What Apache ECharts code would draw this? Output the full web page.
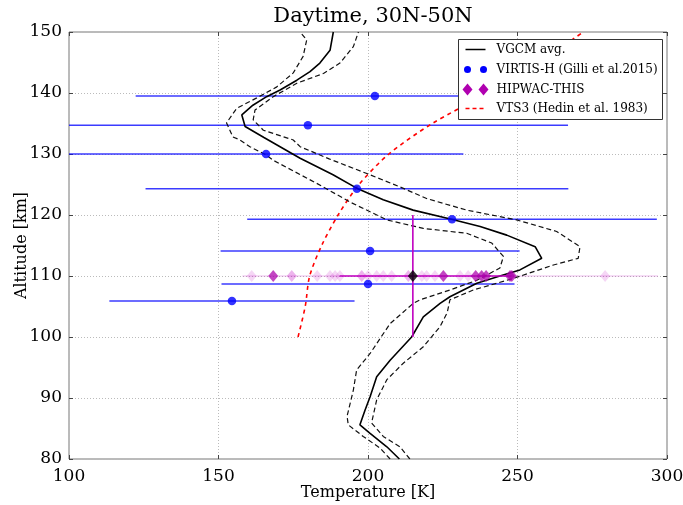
<!DOCTYPE html>
<html><head><meta charset="utf-8">
<script src="https://cdn.jsdelivr.net/npm/echarts@6/dist/echarts.min.js"></script>
<style>html,body{margin:0;padding:0;background:#fff}#c{width:683px;height:505px}</style>
</head><body><div id="c"></div>
<script>
// ---- data ----
const xTicks = [100, 150, 200, 250, 300];
const yTicks = [80, 90, 100, 110, 120, 130, 140, 150];

const vgcmAlt = [80, 82, 84.2, 85.6, 88, 90.2, 93.5, 96.2, 100, 103.3, 105.5, 106.6, 108.8, 110, 111, 112.9, 114.8, 116.7, 118.1, 119.3, 120.8, 122.5, 124.4, 126.6, 129.3, 132.7, 134.5, 136.4, 138, 139.4, 140.5, 142.1, 143.5, 144.9, 147, 150];
const vgcmT   = [210.5, 206.3, 200.7, 197.3, 199, 200.7, 202.9, 207.4, 214.6, 218.5, 224.1, 227.4, 236.4, 244.1, 250.8, 258.1, 255.9, 246.4, 237.5, 227.9, 215.1, 205.1, 196.2, 188.3, 177.3, 165.2, 158.9, 157.8, 161.5, 166.1, 170.6, 176.2, 180.6, 183.9, 187.3, 188.4];

const lowAlt = [80, 81.8, 83.7, 85.6, 87, 91.3, 94.6, 97.3, 102.2, 105.5, 106.1, 107.7, 109.3, 111.3, 113.2, 115.4, 117, 117.8, 119.2, 122, 125.2, 129, 129.8, 131.2, 132.3, 132.8, 135.1, 137.5, 139.2, 141, 143.3, 146, 148.7, 150];
const lowT   = [207.4, 204, 198.4, 193.4, 193, 195.1, 196.2, 200.7, 207.4, 215.1, 217.4, 227.4, 236.4, 244.1, 245.3, 241.4, 233, 218.5, 206.3, 194.5, 182.8, 168.2, 166.1, 160.5, 157.2, 154.8, 152.7, 156.1, 162.8, 169.5, 175, 178.3, 179.5, 177.3];

const upAlt = [80, 82, 83.7, 85.9, 89.7, 93, 95.7, 98.4, 101.7, 104, 106.1, 107.7, 109.6, 111.8, 112.9, 114.8, 117.3, 119.2, 120.8, 122.7, 124.6, 126.8, 129.2, 131.2, 132.3, 133.9, 135.6, 137.2, 139.4, 141.6, 143.2, 144.9, 147.6, 150];
const upT   = [214, 210.7, 205.1, 201.2, 202.9, 206.3, 211.8, 218.5, 224.1, 226.5, 227.4, 235.2, 248.6, 262, 270.3, 270.9, 263.1, 249.7, 233, 219.6, 210.7, 199.6, 187, 177.3, 175, 165, 161.6, 162.2, 168.3, 176.2, 185.1, 190.6, 195.1, 196.8];

const vtsAlt = [100, 105, 110, 115, 120, 125, 130, 135, 140, 145, 150];
const vtsT   = [176.6, 179, 180.5, 184.5, 190, 197, 207, 221.5, 240, 257, 272];

const virtisT   = [202.3, 179.9, 165.9, 196.3, 228.1, 200.7, 200, 154.5];
const virtisAlt = [139.5, 134.7, 130, 124.3, 119.3, 114.1, 108.7, 105.9];
const virtisErr = [80, 87, 66, 70.7, 68.5, 50, 49, 41];

const hipwacAlt = 110;
const hipwacLightT = [161.1, 174.5, 174.5, 183, 187.3, 189, 190.6, 197.9, 197.9, 200, 202.9, 205.1, 207.9, 213.5, 213.5, 218, 219.6, 222.4, 230.8, 233.5, 279.3];
const hipwacDarkT  = [168.3, 225.2, 236, 238, 239.5, 247.5, 248.1];
const hipwacMeanT = 215;
const hipwacTRange = [190.5, 248];
const hipwacAltRange = [100, 120];
const hipwacSpread = [158, 297];

const title = 'Daytime, 30N-50N';
const xName = 'Temperature [K]';
const yName = 'Altitude [km]';
const legendNames = ['VGCM avg.', 'VIRTIS-H (Gilli et al.2015)', 'HIPWAC-THIS', 'VTS3 (Hedin et al. 1983)'];

// ---- build ----
const zip = (t, a) => t.map((v, i) => [v, a[i]]);
const FONT = 'DejaVu Serif';
const chart = echarts.init(document.getElementById('c'), null, {renderer: 'canvas'});

function hSeg(range, alt, color, width, z) {
  return {
    type: 'custom', z: z, silent: true,
    data: [[range[0], range[1], alt]],
    renderItem: (p, api) => {
      const a = api.coord([api.value(0), api.value(2)]);
      const b = api.coord([api.value(1), api.value(2)]);
      const cs = p.coordSys;
      return {type: 'line', shape: {x1: Math.max(a[0], cs.x), y1: a[1], x2: Math.min(b[0], cs.x + cs.width), y2: b[1]},
        style: {stroke: color, lineWidth: width}};
    }
  };
}

const LF = '12px "DejaVu Serif"';
const option = {
  animation: false,
  title: {text: title, left: 368, top: 1, textAlign: 'center',
    textStyle: {fontFamily: FONT, fontSize: 21, fontWeight: 'normal', color: '#000'}},
  grid: {left: 69, right: 16, top: 32, bottom: 46, containLabel: false, outerBoundsMode: 'none',
    show: true, borderColor: '#777', borderWidth: 1, backgroundColor: 'transparent'},
  xAxis: [{
    type: 'value', min: 100, max: 300, interval: 50,
    name: xName, nameLocation: 'middle', nameGap: 26, nameMoveOverlap: false,
    nameTextStyle: {fontFamily: FONT, fontSize: 16, color: '#000'},
    axisLine: {show: false}, axisTick: {inside: true, length: 4, lineStyle: {color: '#444'}},
    axisLabel: {fontFamily: FONT, fontSize: 17, color: '#000', margin: 9},
    splitLine: {show: true, lineStyle: {color: '#bbb', type: [1, 2], width: 1}}
  }, {
    type: 'value', min: 100, max: 300, interval: 50, position: 'top',
    axisLine: {show: false}, axisTick: {inside: true, length: 4, lineStyle: {color: '#444'}},
    axisLabel: {show: false}, splitLine: {show: false}
  }],
  yAxis: [{
    type: 'value', min: 80, max: 150, interval: 10,
    name: yName, nameLocation: 'middle', nameGap: 39, nameRotate: 90, nameMoveOverlap: false,
    nameTextStyle: {fontFamily: FONT, fontSize: 16, color: '#000'},
    axisLine: {show: false}, axisTick: {inside: true, length: 4, lineStyle: {color: '#444'}},
    axisLabel: {fontFamily: FONT, fontSize: 17, color: '#000', margin: 7},
    splitLine: {show: true, lineStyle: {color: '#bbb', type: [1, 2], width: 1}}
  }, {
    type: 'value', min: 80, max: 150, interval: 10, position: 'right',
    axisLine: {show: false}, axisTick: {inside: true, length: 4, lineStyle: {color: '#444'}},
    axisLabel: {show: false}, splitLine: {show: false}
  }],
  series: [
    hSeg(hipwacSpread, hipwacAlt, 'rgba(191,0,191,0.18)', 1.5, 2),
    {type: 'custom', z: 3, silent: true,
     data: virtisT.map((t, i) => [t, virtisAlt[i], virtisErr[i]]),
     renderItem: (p, api) => {
       const t = api.value(0), a = api.value(1), e = api.value(2);
       const p1 = api.coord([t - e, a]), p2 = api.coord([t + e, a]);
       const cs = p.coordSys;
       return {type: 'line', shape: {x1: Math.max(p1[0], cs.x), y1: p1[1], x2: Math.min(p2[0], cs.x + cs.width), y2: p2[1]},
         style: {stroke: 'rgba(10,10,255,0.8)', lineWidth: 1.5}};
     }},
    {type: 'line', name: 'VTS3', data: zip(vtsT, vtsAlt), smooth: 0.3, showSymbol: false, z: 4,
     lineStyle: {color: '#ff0000', width: 1.6, type: [4, 4]}},
    {type: 'line', data: zip(lowT, lowAlt), showSymbol: false, z: 5,
     lineStyle: {color: '#111', width: 1.2, type: [5, 3]}},
    {type: 'line', data: zip(upT, upAlt), showSymbol: false, z: 5,
     lineStyle: {color: '#111', width: 1.2, type: [5, 3]}},
    {type: 'line', name: 'VGCM', data: zip(vgcmT, vgcmAlt), showSymbol: false, z: 6,
     lineStyle: {color: '#000', width: 1.6}},
    {type: 'scatter', data: hipwacLightT.map(t => [t, hipwacAlt]), symbol: 'diamond', symbolSize: [10, 12], z: 7,
     itemStyle: {color: 'rgba(191,0,191,0.2)'}},
    hSeg(hipwacTRange, hipwacAlt, '#c000c0', 1.6, 8),
    {type: 'custom', z: 8, silent: true,
     data: [[hipwacMeanT, hipwacAltRange[0], hipwacAltRange[1]]],
     renderItem: (p, api) => {
       const a = api.coord([api.value(0), api.value(1)]);
       const b = api.coord([api.value(0), api.value(2)]);
       return {type: 'line', shape: {x1: a[0], y1: a[1], x2: b[0], y2: b[1]}, style: {stroke: '#c000c0', lineWidth: 1.6}};
     }},
    {type: 'scatter', data: hipwacDarkT.map(t => [t, hipwacAlt]), symbol: 'diamond', symbolSize: [10, 12], z: 9,
     itemStyle: {color: 'rgba(170,0,170,0.9)'}},
    {type: 'scatter', data: [[hipwacMeanT, hipwacAlt]], symbol: 'diamond', symbolSize: [10, 12], z: 10,
     itemStyle: {color: '#000'}},
    {type: 'scatter', data: zip(virtisT, virtisAlt), symbol: 'circle', symbolSize: 8.5, z: 10,
     itemStyle: {color: '#0000ff'}}
  ],
  graphic: [{
    type: 'group', left: 458, top: 39, z: 100, zlevel: 1,
    children: [
      {type: 'rect', z: 100, zlevel: 1, shape: {x: 0, y: 0, width: 204, height: 80}, style: {fill: '#fff', stroke: '#333', lineWidth: 1}},
      {type: 'line', z: 101, zlevel: 1, shape: {x1: 7, y1: 10, x2: 27, y2: 10}, style: {stroke: '#000', lineWidth: 1.5}},
      {type: 'circle', z: 101, zlevel: 1, shape: {cx: 9, cy: 30, r: 3.5}, style: {fill: '#0000ff'}},
      {type: 'circle', z: 101, zlevel: 1, shape: {cx: 25, cy: 30, r: 3.5}, style: {fill: '#0000ff'}},
      {type: 'polygon', z: 101, zlevel: 1, shape: {points: [[9, 44], [14, 50], [9, 56], [4, 50]]}, style: {fill: '#b000b0'}},
      {type: 'polygon', z: 101, zlevel: 1, shape: {points: [[25, 44], [30, 50], [25, 56], [20, 50]]}, style: {fill: '#b000b0'}},
      {type: 'line', z: 101, zlevel: 1, shape: {x1: 7, y1: 69, x2: 27, y2: 69}, style: {stroke: '#ff0000', lineWidth: 1.5, lineDash: [4, 3]}},
      {type: 'text', z: 101, zlevel: 1, x: 38, y: 10, style: {text: legendNames[0], font: LF, fill: '#000', verticalAlign: 'middle'}},
      {type: 'text', z: 101, zlevel: 1, x: 38, y: 30, style: {text: legendNames[1], font: LF, fill: '#000', verticalAlign: 'middle'}},
      {type: 'text', z: 101, zlevel: 1, x: 38, y: 50, style: {text: legendNames[2], font: LF, fill: '#000', verticalAlign: 'middle'}},
      {type: 'text', z: 101, zlevel: 1, x: 38, y: 69, style: {text: legendNames[3], font: LF, fill: '#000', verticalAlign: 'middle'}}
    ]
  }]
};
chart.setOption(option);
</script>
</body></html>
